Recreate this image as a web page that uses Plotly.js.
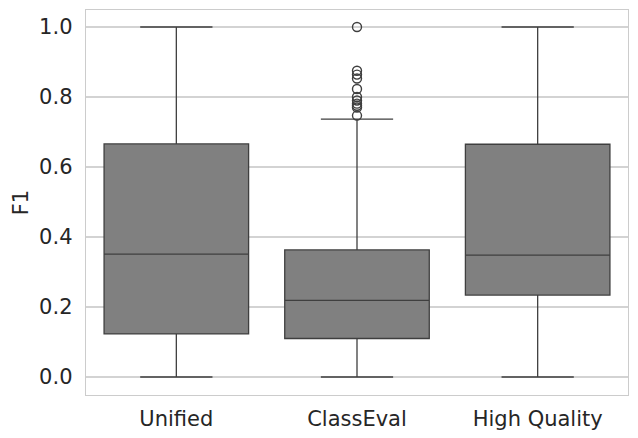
<!DOCTYPE html>
<html>
<head>
<meta charset="utf-8">
<script src="https://cdn.plot.ly/plotly-3.0.1.min.js"></script>
<style>html,body{margin:0;padding:0;background:#fff;}</style>
</head>
<body>
<div id="chart" style="width:638px;height:438px;"></div>
<script>
const categories = ["Unified", "ClassEval", "High Quality"];
const q1Values = [0.123, 0.110, 0.234];
const medianValues = [0.351, 0.219, 0.348];
const q3Values = [0.666, 0.363, 0.665];
const lowerWhiskers = [0.0, 0.0, 0.0];
const upperWhiskers = [1.0, 0.737, 1.0];
const outlierCategories = ["ClassEval","ClassEval","ClassEval","ClassEval","ClassEval","ClassEval","ClassEval","ClassEval","ClassEval","ClassEval","ClassEval"];
const outlierValues = [1.0, 0.875, 0.864, 0.853, 0.823, 0.800, 0.790, 0.781, 0.775, 0.770, 0.747];
const yTicks = [0.0, 0.2, 0.4, 0.6, 0.8, 1.0];
const yTickLabels = ["0.0", "0.2", "0.4", "0.6", "0.8", "1.0"];

const lineColor = "#3f3f3f";
const traces = [
  {
    type: "box",
    x: categories,
    q1: q1Values,
    median: medianValues,
    q3: q3Values,
    lowerfence: lowerWhiskers,
    upperfence: upperWhiskers,
    boxpoints: false,
    fillcolor: "#808080",
    line: {color: lineColor, width: 1.3},
    width: 0.8,
    whiskerwidth: 0.5,
    hoverinfo: "skip",
    showlegend: false
  },
  {
    type: "scatter",
    mode: "markers",
    x: outlierCategories,
    y: outlierValues,
    marker: {symbol: "circle-open", size: 9, color: lineColor, line: {width: 1.4, color: lineColor}},
    hoverinfo: "skip",
    showlegend: false
  }
];

const layout = {
  width: 638,
  height: 438,
  margin: {l: 86, r: 10, t: 10, b: 43},
  paper_bgcolor: "#ffffff",
  plot_bgcolor: "#ffffff",
  font: {family: "DejaVu Sans", size: 21, color: "#262626"},
  xaxis: {
    type: "category",
    categoryorder: "array",
    categoryarray: categories,
    range: [-0.5, 2.5],
    showgrid: false,
    zeroline: false,
    showline: true,
    mirror: true,
    linecolor: "#cccccc",
    linewidth: 1.3,
    ticks: "",
    ticklabelstandoff: 4,
    tickfont: {size: 21, color: "#262626"},
    fixedrange: true
  },
  yaxis: {
    range: [-0.0514, 1.0486],
    tickvals: yTicks,
    ticktext: yTickLabels,
    showgrid: true,
    gridcolor: "#d3d3d3",
    gridwidth: 1.1,
    zeroline: false,
    showline: true,
    mirror: true,
    linecolor: "#cccccc",
    linewidth: 1.3,
    ticks: "",
    ticklabelstandoff: 8,
    tickfont: {size: 21, color: "#262626"},
    title: {text: "F1", font: {size: 21, color: "#262626"}, standoff: 4},
    fixedrange: true
  }
};

Plotly.newPlot("chart", traces, layout, {displayModeBar: false, staticPlot: true});
</script>
</body>
</html>
